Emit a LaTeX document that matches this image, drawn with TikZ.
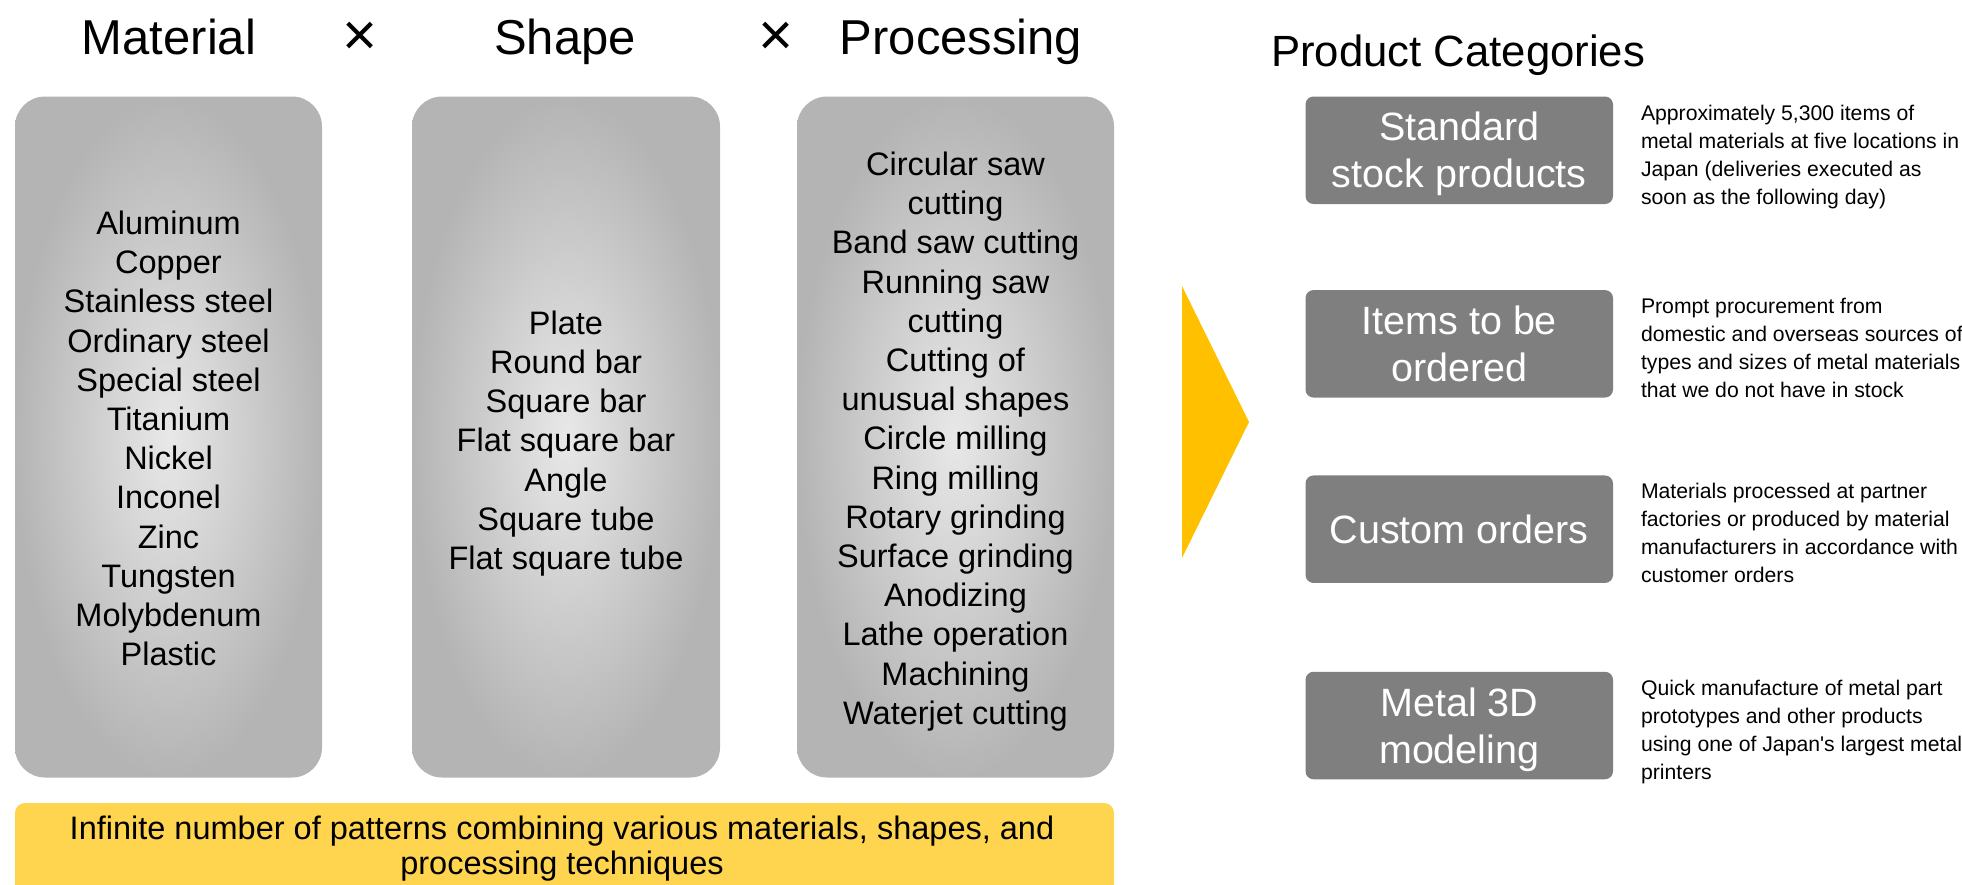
\documentclass[tikz,border=0pt]{standalone}
\usepackage{fontspec}
\setmainfont{Liberation Sans}[Ligatures=TeXOff]
\definecolor{boxgray}{HTML}{7F7F7F}
\definecolor{lightc}{HTML}{E8E8E8}
\definecolor{darkc}{HTML}{B4B4B4}
\definecolor{arrowyellow}{HTML}{FFC000}
\definecolor{baryellow}{HTML}{FFD54F}
\newcommand\catstrut{\rule[-9.5pt]{0pt}{47pt}}
\newcommand\descstrut{\rule[-10.5pt]{0pt}{28pt}}
\newcommand\barstrut{\rule[-10pt]{0pt}{35pt}}
\begin{document}
\begin{tikzpicture}[x=1pt,y=-1pt,
  every node/.style={outer sep=0pt},
  title/.style={anchor=base, inner sep=0pt, font=\fontsize{49}{58}\selectfont},
  times/.style={anchor=center, inner sep=0pt, font=\fontsize{60}{70}\selectfont},
  listbox/.style={rectangle, rounded corners=30pt, minimum height=681pt, inner color=lightc, outer color=darkc, inner sep=0pt},
  listtext/.style={align=center, inner sep=0pt, font=\fontsize{32.5}{39.2}\selectfont},
  catbox/.style={rectangle, rounded corners=8pt, fill=boxgray, text=white, minimum width=307.5pt, minimum height=107.5pt, inner sep=0pt, align=center, font=\fontsize{39.5}{47}\selectfont},
  desc/.style={anchor=north west, inner sep=0pt, align=left, font=\fontsize{21.2}{28}\selectfont},
  bartext/.style={inner sep=0pt, align=center, font=\fontsize{32.5}{35}\selectfont}
]
\useasboundingbox (0,0) rectangle (1962,884);

% titles
\node[title] (tmat) at (169,54) {Material};
\node[times] (x1) at (360,39) {×};
\node[title] (tshape) at (565,54) {Shape};
\node[times] (x2) at (776,39) {×};
\node[title] (tproc) at (961,54) {Processing};

% list boxes
\node[listbox, minimum width=307pt] (mat) at (168.5,437) {};
\node[listbox, minimum width=308pt] (shape) at (566,437) {};
\node[listbox, minimum width=317pt] (proc) at (955.5,437) {};
\node[listtext] (matlist) at ([yshift=-1.5pt]mat.center) {Aluminum\\Copper\\Stainless steel\\Ordinary steel\\Special steel\\Titanium\\Nickel\\Inconel\\Zinc\\Tungsten\\Molybdenum\\Plastic};
\node[listtext] (shapelist) at ([yshift=-6.5pt]shape.center) {Plate\\Round bar\\Square bar\\Flat square bar\\Angle\\Square tube\\Flat square tube};
\node[listtext] (proclist) at ([yshift=-4.5pt]proc.center) {Circular saw\\cutting\\Band saw cutting\\Running saw\\cutting\\Cutting of\\unusual shapes\\Circle milling\\Ring milling\\Rotary grinding\\Surface grinding\\Anodizing\\Lathe operation\\Machining\\Waterjet cutting};

% bottom bar
\begin{scope}
\clip (0,0) rectangle (1962,884);
\fill[baryellow, rounded corners=10pt] (15,803) rectangle (1114,930);
\end{scope}
\node[bartext] (combo) at (562,849) {\barstrut Infinite number of patterns combining various materials, shapes, and\\\barstrut processing techniques};

% arrow
\fill[arrowyellow] (1182,286) -- (1249,422) -- (1182,558) -- cycle;

% product categories
\node[anchor=base west, inner sep=0pt, font=\fontsize{43.7}{50}\selectfont] (pc) at (1271,66) {Product Categories};

\node[catbox] (c1) at (1459.25,150.25) {\catstrut Standard\\\catstrut stock products};
\node[catbox] (c2) at (1459.25,343.8) {\catstrut Items to be\\\catstrut ordered};
\node[catbox] (c3) at (1459.25,529.2) {\catstrut Custom orders};
\node[catbox] (c4) at (1459.25,725.5) {\catstrut Metal 3D\\\catstrut modeling};

\node[desc] (d1) at ([xshift=28pt,yshift=-6pt]c1.north east) {\descstrut Approximately 5,300 items of\\\descstrut metal materials at five locations in\\\descstrut Japan (deliveries executed as\\\descstrut soon as the following day)};
\node[desc] (d2) at ([xshift=28pt,yshift=-6pt]c2.north east) {\descstrut Prompt procurement from\\\descstrut domestic and overseas sources of\\\descstrut types and sizes of metal materials\\\descstrut that we do not have in stock};
\node[desc] (d3) at ([xshift=28pt,yshift=-6pt]c3.north east) {\descstrut Materials processed at partner\\\descstrut factories or produced by material\\\descstrut manufacturers in accordance with\\\descstrut customer orders};
\node[desc] (d4) at ([xshift=28pt,yshift=-6pt]c4.north east) {\descstrut Quick manufacture of metal part\\\descstrut prototypes and other products\\\descstrut using one of Japan's largest metal\\\descstrut printers};
\end{tikzpicture}
\end{document}
